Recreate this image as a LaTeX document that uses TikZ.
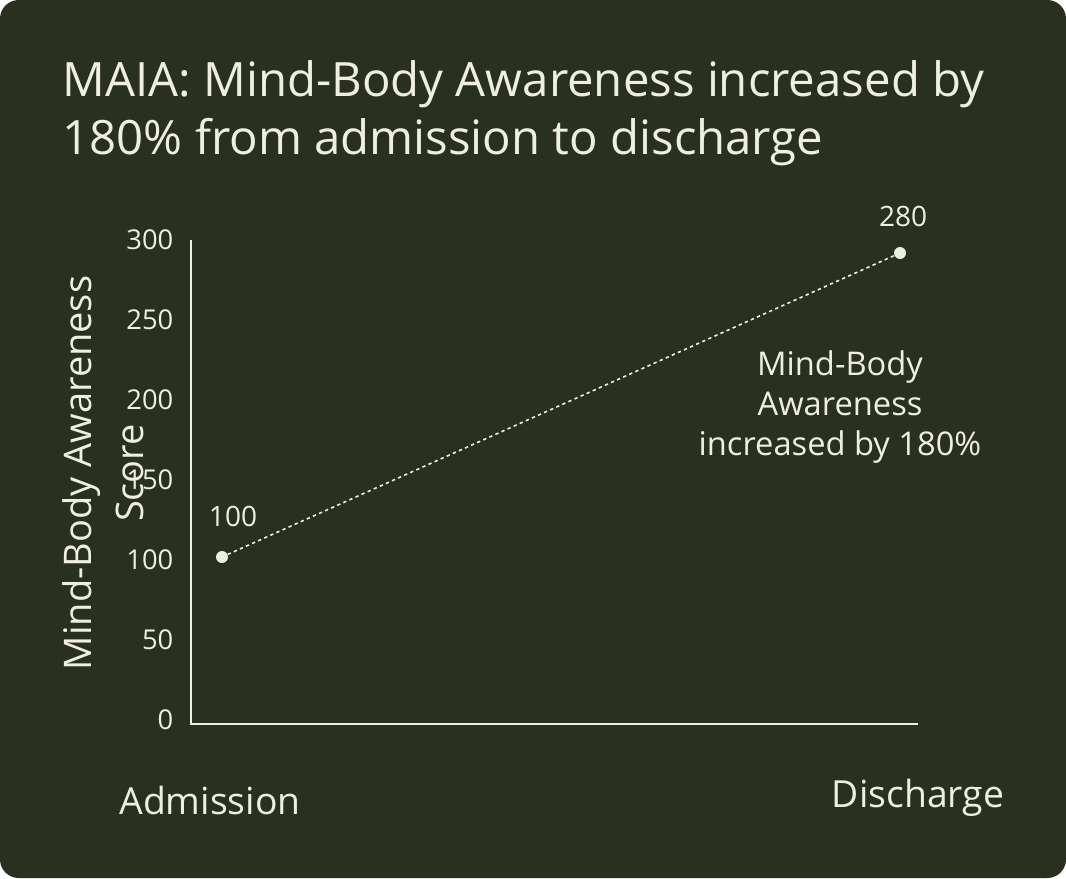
\documentclass[tikz,border=0pt]{standalone}
\usepackage{fontspec}
\setmainfont{Open Sans}
\definecolor{bgolive}{HTML}{2A3020}
\definecolor{ink}{HTML}{EEEEE2}
\begin{document}
\begin{tikzpicture}[x=0.75pt, y=-0.75pt, every node/.style={text=ink}]
  \tikzstyle{tick}=[anchor=east, font=\fontsize{20.5}{22}\selectfont]
  \tikzstyle{dot}=[circle, fill=ink, inner sep=0pt, minimum size=9pt]
  \tikzstyle{lbl}=[font=\fontsize{21}{24}\selectfont]

  % Fond
  \fill[bgolive, rounded corners=14pt] (0,0) rectangle (1066,878);
  \useasboundingbox (0,0) rectangle (1066,878);

  % Titre
  \node[anchor=north west, align=left, font=\fontsize{35.5}{43}\selectfont] (title) at (58,56)
    {MAIA: Mind-Body Awareness increased by\\180\% from admission to discharge};

  % Axes
  \coordinate (top) at (191,240);
  \coordinate (orig) at (191,724);
  \coordinate (xend) at (918,724);
  \draw[ink, line width=1.5pt] (top) -- (orig) -- (xend);

  % Graduations
  \foreach \v [count=\i from 0] in {0,50,100,150,200,250,300}
    \node[tick] (t\i) at (178,720-80*\i) {\v};

  \node[rotate=90, font=\fontsize{28.5}{30}\selectfont] (ytitle) at (82,473) {Mind-Body Awareness};
  \node[rotate=90, font=\fontsize{28.5}{30}\selectfont] (ytitle2) at (130,473) {Score};

  % Points
  \node[dot] (p1) at (222,557) {};
  \node[dot] (p2) at (900,253) {};
  \draw[ink, line width=1.2pt, dash pattern=on 2.5pt off 2.5pt] (p1) -- (p2);
  \node[lbl] (v1) at (233,516) {100};
  \node[lbl] (v2) at (903,216) {280};

  \node[lbl, align=center, font=\fontsize{24.5}{30}\selectfont] (note) at (840,407)
    {Mind-Body\\Awareness\\increased by 180\%};

  \node[font=\fontsize{28}{30}\selectfont] (adm) at (210,800) {Admission};
  \node[font=\fontsize{28}{30}\selectfont] (dis) at (918,798) {Discharge};
\end{tikzpicture}
\end{document}
